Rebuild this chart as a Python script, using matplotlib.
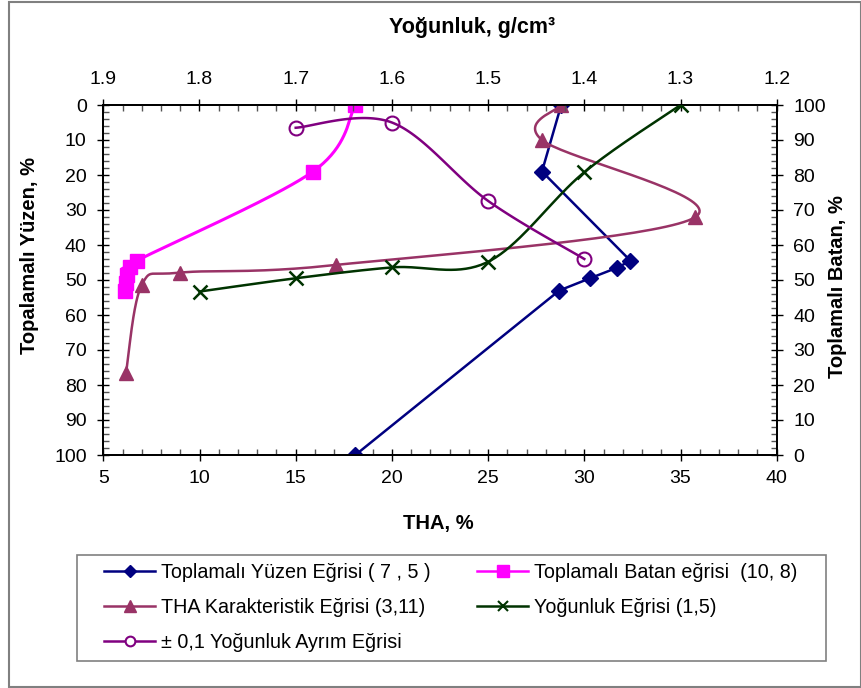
import matplotlib

matplotlib.use("Agg")

import matplotlib.pyplot as plt
import numpy as np
from matplotlib.lines import Line2D
from matplotlib.patches import Rectangle
from matplotlib.ticker import MultipleLocator, FormatStrFormatter

# cumulative floats curve (THA %, cumulative floats %)
yuzen_tha = [28.8, 27.8, 32.4, 31.7, 30.3, 28.7, 18.1]
yuzen_pct = [0.0, 19.0, 44.5, 46.5, 49.5, 53.0, 100.0]

# cumulative sinks curve (THA %, cumulative sinks %)
batan_tha = [18.1, 15.9, 6.74, 6.39, 6.25, 6.18, 6.14]
batan_pct = [100.0, 81.0, 55.5, 53.6, 51.4, 49.2, 46.9]

# THA characteristic curve (THA %, cumulative floats %)
karakt_tha = [28.8, 27.8, 35.75, 17.1, 9.0, 7.0, 6.18]
karakt_pct = [0.0, 10.0, 32.1, 45.7, 47.9, 51.4, 76.7]

# density curve (g/cm3, cumulative floats %)
yog_dens = [1.8, 1.7, 1.6, 1.5, 1.4, 1.3]
yog_pct = [53.3, 49.5, 46.4, 44.8, 19.2, 0.0]

# +-0.1 near density curve (g/cm3, %)
ayrim_dens = [1.7, 1.6, 1.5, 1.4]
ayrim_pct = [6.5, 5.0, 27.4, 44.0]

W, H = 862, 688
FONT = "Liberation Sans"
plt.rcParams.update({"font.family": [FONT, "DejaVu Sans"], "font.size": 13})


def smooth(ax, xs, ys, n=40):
    # Excel-like smoothed line: cardinal bezier in pixel space
    pts = ax.transData.transform(np.column_stack([xs, ys]))
    p = np.vstack([pts[0], pts, pts[-1]])
    t = np.linspace(0, 1, n)[:, None]
    out = []
    for i in range(1, len(p) - 2):
        p0, p1, p2, p3 = p[i - 1], p[i], p[i + 1], p[i + 2]
        c1 = p1 + (p2 - p0) / 6
        c2 = p2 - (p3 - p1) / 6
        seg = (1 - t) ** 3 * p1 + 3 * (1 - t) ** 2 * t * c1 + 3 * (1 - t) * t ** 2 * c2 + t ** 3 * p2
        out.append(seg if i == 1 else seg[1:])
    xy = ax.transData.inverted().transform(np.vstack(out))
    return xy[:, 0], xy[:, 1]


fig = plt.figure(figsize=(W / 100, H / 100), dpi=100)
x0, x1, y0, y1 = 103.3, 776.7, 105, 455
ax = fig.add_axes([x0 / W, 1 - y1 / H, (x1 - x0) / W, (y1 - y0) / H])
ax.set_xlim(5, 40)
ax.set_ylim(100, 0)
ax_r = ax.twinx()
ax_r.set_ylim(0, 100)
ax_t = ax.twiny()
ax_t.set_xlim(1.9, 1.2)

c_yuzen = "#000080"
c_batan = "#ff00ff"
c_karakt = "#993366"
c_yog = "#003300"
c_ayrim = "#800080"
lw = 1.8

# floats - straight segments
ax.plot(yuzen_tha, yuzen_pct, color=c_yuzen, lw=lw, marker="D", ms=8, zorder=3)

# sinks on right axis
sx, sy = smooth(ax_r, batan_tha, batan_pct)
ax_r.plot(sx, sy, color=c_batan, lw=2.2, zorder=3)
ax_r.plot(batan_tha, batan_pct, ls="none", marker="s", ms=10, color=c_batan, zorder=4)

sx, sy = smooth(ax, karakt_tha, karakt_pct)
ax.plot(sx, sy, color=c_karakt, lw=lw, zorder=3)
ax.plot(karakt_tha, karakt_pct, ls="none", marker="^", ms=10, color=c_karakt, zorder=4)

sx, sy = smooth(ax_t, yog_dens, yog_pct)
ax_t.plot(sx, sy, color=c_yog, lw=lw, zorder=3)
ax_t.plot(yog_dens, yog_pct, ls="none", marker="x", ms=10, mew=1.8, color=c_yog, zorder=4)

sx, sy = smooth(ax_t, ayrim_dens, ayrim_pct)
ax_t.plot(sx, sy, color=c_ayrim, lw=lw, zorder=3)
ax_t.plot(ayrim_dens, ayrim_pct, ls="none", marker="o", ms=10, mfc="none", mew=1.5,
          color=c_ayrim, zorder=4)

# ticks
ax.xaxis.set_major_locator(MultipleLocator(5))
ax.xaxis.set_minor_locator(MultipleLocator(1))
ax.yaxis.set_major_locator(MultipleLocator(10))
ax.yaxis.set_minor_locator(MultipleLocator(2))
ax_r.yaxis.set_major_locator(MultipleLocator(10))
ax_r.yaxis.set_minor_locator(MultipleLocator(2))
ax_t.xaxis.set_major_locator(MultipleLocator(0.1))
ax_t.xaxis.set_minor_locator(MultipleLocator(0.02))
ax_t.xaxis.set_major_formatter(FormatStrFormatter("%.1f"))

tick_fs = 14
ax.tick_params(axis="x", which="major", direction="inout", length=8, width=1,
               labelsize=tick_fs, pad=7, top=False)
ax.tick_params(axis="y", which="major", direction="inout", length=8, width=1,
               labelsize=tick_fs, pad=8, right=False)
ax.tick_params(which="minor", direction="in", length=4, width=1, color="#555555",
               top=False, right=False)
ax_r.tick_params(axis="y", which="major", direction="inout", length=8, width=1,
                 labelsize=tick_fs, pad=8)
ax_r.tick_params(axis="y", which="minor", direction="in", length=4, width=1, color="#555555")
ax_t.tick_params(axis="x", which="major", direction="inout", length=8, width=1,
                 labelsize=tick_fs, pad=8)
ax_t.tick_params(axis="x", which="minor", direction="in", length=4, width=1, color="#555555")

for a in (ax, ax_r, ax_t):
    for s in a.spines.values():
        s.set_linewidth(1.2)
        s.set_color("black")

# axis titles
tkw = dict(fontsize=14.5, fontweight="bold", ha="center", va="center")
fig.text(472 / W, 1 - 28 / H, "Yoğunluk, g/cm³", **dict(tkw, fontsize=15.5))
fig.text(438 / W, 1 - 523 / H, "THA, %", **tkw)
fig.text(30 / W, 1 - 255 / H, "Topalamalı Yüzen, %", rotation=90, **tkw)
fig.text(838 / W, 1 - 287 / H, "Toplamalı Batan, %", rotation=90, **tkw)

# legend
def handle(color, marker, ms, **kw):
    return Line2D([], [], color=color, lw=lw, marker=marker, ms=ms, **kw)


col1 = [
    (handle(c_yuzen, "D", 6), "Toplamalı Yüzen Eğrisi ( 7 , 5 )"),
    (handle(c_karakt, "^", 8), "THA Karakteristik Eğrisi (3,11)"),
    (handle(c_ayrim, "o", 7, mfc="white", mew=1.5), "± 0,1 Yoğunluk Ayrım Eğrisi"),
]
col2 = [
    (handle(c_batan, "s", 8), "Toplamalı Batan eğrisi  (10, 8)"),
    (handle(c_yog, "x", 7, mew=1.5), "Yoğunluk Eğrisi (1,5)"),
]
lkw = dict(loc="upper left", frameon=False, fontsize=14.2, handlelength=2.6,
           handletextpad=0.3, labelspacing=0.82, borderpad=0, borderaxespad=0)
leg1 = fig.legend([h for h, _ in col1], [t for _, t in col1],
                  bbox_to_anchor=(104 / W, 1 - 563 / H), **lkw)
leg2 = fig.legend([h for h, _ in col2], [t for _, t in col2],
                  bbox_to_anchor=(477 / W, 1 - 563 / H), **lkw)

fig.patches.append(Rectangle((77 / W, 1 - 661 / H), 749 / W, 106 / H, transform=fig.transFigure,
                             fill=False, edgecolor="#808080", lw=1.2))
fig.patches.append(Rectangle((9 / W, 1 / H), 852 / W, 685 / H, transform=fig.transFigure,
                             fill=False, edgecolor="#808080", lw=1.5))

fig.savefig("out.png", dpi=100)
plt.close(fig)
